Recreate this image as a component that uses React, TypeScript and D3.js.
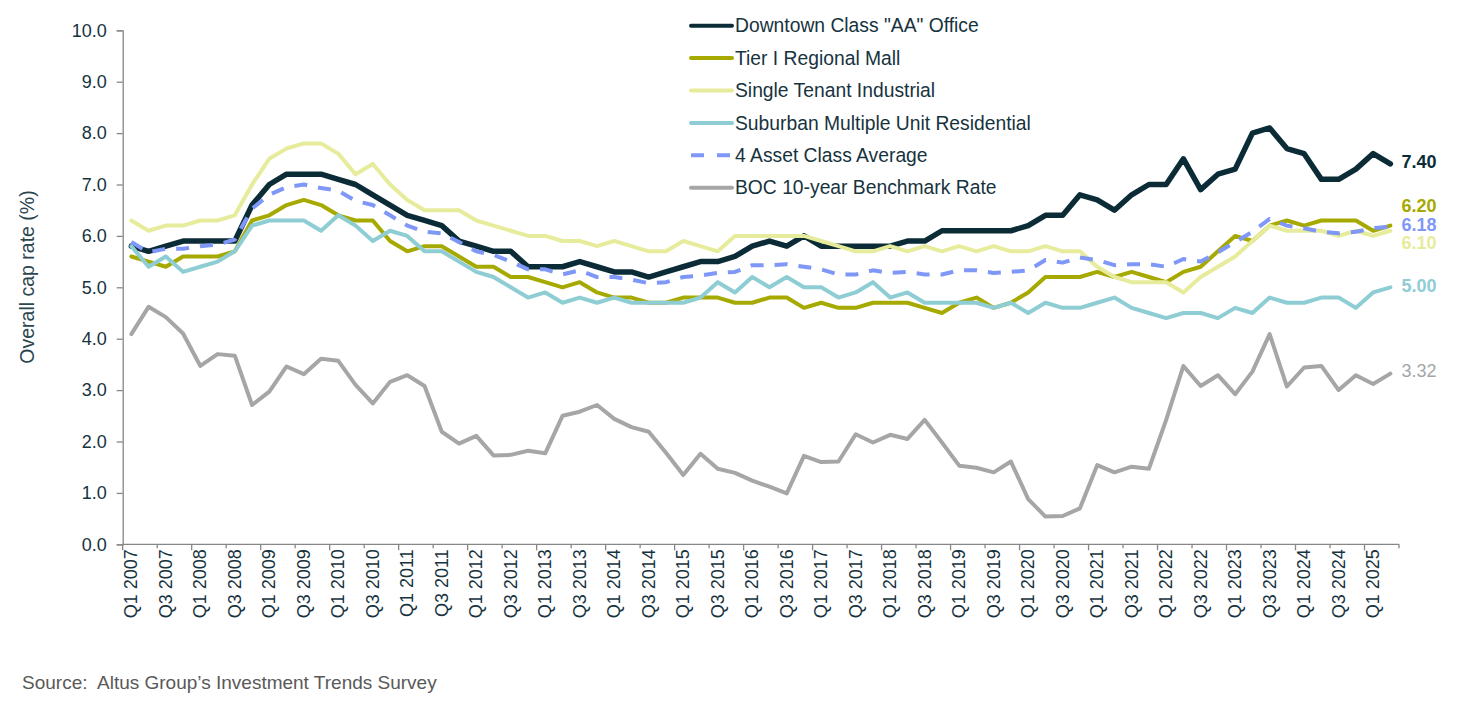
import React, { useEffect, useRef } from 'react';
import * as d3 from 'd3';

// quarter categories, Q1 2007 .. Q2 2025
const quarters = [
  'Q1 2007', 'Q2 2007', 'Q3 2007', 'Q4 2007', 'Q1 2008', 'Q2 2008', 'Q3 2008', 'Q4 2008',
  'Q1 2009', 'Q2 2009', 'Q3 2009', 'Q4 2009', 'Q1 2010', 'Q2 2010', 'Q3 2010', 'Q4 2010',
  'Q1 2011', 'Q2 2011', 'Q3 2011', 'Q4 2011', 'Q1 2012', 'Q2 2012', 'Q3 2012', 'Q4 2012',
  'Q1 2013', 'Q2 2013', 'Q3 2013', 'Q4 2013', 'Q1 2014', 'Q2 2014', 'Q3 2014', 'Q4 2014',
  'Q1 2015', 'Q2 2015', 'Q3 2015', 'Q4 2015', 'Q1 2016', 'Q2 2016', 'Q3 2016', 'Q4 2016',
  'Q1 2017', 'Q2 2017', 'Q3 2017', 'Q4 2017', 'Q1 2018', 'Q2 2018', 'Q3 2018', 'Q4 2018',
  'Q1 2019', 'Q2 2019', 'Q3 2019', 'Q4 2019', 'Q1 2020', 'Q2 2020', 'Q3 2020', 'Q4 2020',
  'Q1 2021', 'Q2 2021', 'Q3 2021', 'Q4 2021', 'Q1 2022', 'Q2 2022', 'Q3 2022', 'Q4 2022',
  'Q1 2023', 'Q2 2023', 'Q3 2023', 'Q4 2023', 'Q1 2024', 'Q2 2024', 'Q3 2024', 'Q4 2024',
  'Q1 2025', 'Q2 2025',
];

const office = [
  5.8, 5.7, 5.8, 5.9, 5.9, 5.9, 5.9, 6.6, 7.0, 7.2, 7.2, 7.2, 7.1, 7.0,
  6.8, 6.6, 6.4, 6.3, 6.2, 5.9, 5.8, 5.7, 5.7, 5.4, 5.4, 5.4, 5.5, 5.4,
  5.3, 5.3, 5.2, 5.3, 5.4, 5.5, 5.5, 5.6, 5.8, 5.9, 5.8, 6.0, 5.8, 5.8,
  5.8, 5.8, 5.8, 5.9, 5.9, 6.1, 6.1, 6.1, 6.1, 6.1, 6.2, 6.4, 6.4, 6.8,
  6.7, 6.5, 6.8, 7.0, 7.0, 7.5, 6.9, 7.2, 7.3, 8.0, 8.1, 7.7, 7.6, 7.1,
  7.1, 7.3, 7.6, 7.4,
];

const mall = [
  5.6, 5.5, 5.4, 5.6, 5.6, 5.6, 5.7, 6.3, 6.4, 6.6, 6.7, 6.6, 6.4, 6.3,
  6.3, 5.9, 5.7, 5.8, 5.8, 5.6, 5.4, 5.4, 5.2, 5.2, 5.1, 5.0, 5.1, 4.9,
  4.8, 4.8, 4.7, 4.7, 4.8, 4.8, 4.8, 4.7, 4.7, 4.8, 4.8, 4.6, 4.7, 4.6,
  4.6, 4.7, 4.7, 4.7, 4.6, 4.5, 4.7, 4.8, 4.6, 4.7, 4.9, 5.2, 5.2, 5.2,
  5.3, 5.2, 5.3, 5.2, 5.1, 5.3, 5.4, 5.7, 6.0, 5.9, 6.2, 6.3, 6.2, 6.3,
  6.3, 6.3, 6.1, 6.2,
];

const industrial = [
  6.3, 6.1, 6.2, 6.2, 6.3, 6.3, 6.4, 7.0, 7.5, 7.7, 7.8, 7.8, 7.6, 7.2,
  7.4, 7.0, 6.7, 6.5, 6.5, 6.5, 6.3, 6.2, 6.1, 6.0, 6.0, 5.9, 5.9, 5.8,
  5.9, 5.8, 5.7, 5.7, 5.9, 5.8, 5.7, 6.0, 6.0, 6.0, 6.0, 6.0, 5.9, 5.8,
  5.7, 5.7, 5.8, 5.7, 5.8, 5.7, 5.8, 5.7, 5.8, 5.7, 5.7, 5.8, 5.7, 5.7,
  5.4, 5.2, 5.1, 5.1, 5.1, 4.9, 5.2, 5.4, 5.6, 5.9, 6.2, 6.1, 6.1, 6.1,
  6.0, 6.1, 6.0, 6.1,
];

const residential = [
  5.8, 5.4, 5.6, 5.3, 5.4, 5.5, 5.7, 6.2, 6.3, 6.3, 6.3, 6.1, 6.4, 6.2,
  5.9, 6.1, 6.0, 5.7, 5.7, 5.5, 5.3, 5.2, 5.0, 4.8, 4.9, 4.7, 4.8, 4.7,
  4.8, 4.7, 4.7, 4.7, 4.7, 4.8, 5.1, 4.9, 5.2, 5.0, 5.2, 5.0, 5.0, 4.8,
  4.9, 5.1, 4.8, 4.9, 4.7, 4.7, 4.7, 4.7, 4.6, 4.7, 4.5, 4.7, 4.6, 4.6,
  4.7, 4.8, 4.6, 4.5, 4.4, 4.5, 4.5, 4.4, 4.6, 4.5, 4.8, 4.7, 4.7, 4.8,
  4.8, 4.6, 4.9, 5.0,
];

const average = [
  5.88, 5.68, 5.75, 5.75, 5.80, 5.83, 5.93, 6.53, 6.80, 6.95, 7.00, 6.93, 6.88, 6.68,
  6.60, 6.40, 6.20, 6.08, 6.05, 5.88, 5.70, 5.63, 5.50, 5.35, 5.35, 5.25, 5.33, 5.20,
  5.20, 5.15, 5.08, 5.10, 5.20, 5.23, 5.28, 5.30, 5.43, 5.43, 5.45, 5.40, 5.35, 5.25,
  5.25, 5.33, 5.28, 5.30, 5.25, 5.25, 5.33, 5.33, 5.28, 5.30, 5.33, 5.53, 5.48, 5.58,
  5.53, 5.43, 5.45, 5.45, 5.40, 5.55, 5.50, 5.68, 5.88, 6.08, 6.33, 6.20, 6.15, 6.08,
  6.05, 6.08, 6.15, 6.18,
];

const boc = [
  4.09, 4.62, 4.42, 4.10, 3.47, 3.70, 3.67, 2.71, 2.97, 3.46, 3.31, 3.61, 3.57, 3.10,
  2.74, 3.16, 3.29, 3.08, 2.19, 1.96, 2.11, 1.73, 1.74, 1.82, 1.77, 2.50, 2.58, 2.71,
  2.44, 2.28, 2.19, 1.78, 1.35, 1.76, 1.47, 1.39, 1.24, 1.12, 0.99, 1.72, 1.60, 1.61,
  2.14, 1.98, 2.13, 2.05, 2.42, 1.98, 1.53, 1.49, 1.40, 1.61, 0.88, 0.54, 0.55, 0.70,
  1.54, 1.40, 1.51, 1.47, 2.42, 3.47, 3.08, 3.29, 2.92, 3.36, 4.09, 3.07, 3.44, 3.47,
  3.00, 3.29, 3.12, 3.32,
];

const seriesNames = [
  'Downtown Class "AA" Office',
  'Tier I Regional Mall',
  'Single Tenant Industrial',
  'Suburban Multiple Unit Residential',
  '4 Asset Class Average',
  'BOC 10-year Benchmark Rate',
];

// end-of-line value labels, same order as seriesNames
const endLabels = ['7.40', '6.20', '6.10', '5.00', '6.18', '3.32'];

const yTicks = [0, 1, 2, 3, 4, 5, 6, 7, 8, 9, 10];

// look of each series (same order as seriesNames)
const styles = [
  { color: '#0b2c36', width: 5.5, dash: null, bold: true, labelDy: -2 },
  { color: '#a6a900', width: 4, dash: null, bold: true, labelDy: -20 },
  { color: '#e7ec9c', width: 4, dash: null, bold: true, labelDy: 12 },
  { color: '#8ecdd3', width: 4, dash: null, bold: true, labelDy: -2 },
  { color: '#7f97f6', width: 4, dash: '13,11', bold: true, labelDy: -1.5 },
  { color: '#a6a6a6', width: 4, dash: null, bold: false, labelDy: -3 },
];

const font = '"Liberation Sans", Arial, sans-serif';
const textColor = '#17333e';

const CapRateChart = () => {
  const ref = useRef<SVGSVGElement>(null);

  useEffect(() => {
    if (!ref.current) return;
    const svg = d3.select(ref.current);
    svg.selectAll('*').remove();

    const left = 122.7, right = 1399, top = 30.3, bottom = 544.3;
    const allSeries = [office, mall, industrial, residential, average, boc];

    const x = d3.scaleBand<number>()
      .domain(quarters.map((_, i) => i))
      .range([left, right]);
    const cx = (i: number) => (x(i) ?? 0) + x.bandwidth() / 2;

    const y = d3.scaleLinear().domain([0, 10]).range([bottom, top]);

    // y axis
    const yAxis = svg.append('g')
      .attr('transform', `translate(${left},0)`)
      .call(d3.axisLeft(y).tickValues(yTicks).tickFormat(d3.format('.1f')).tickSize(6).tickPadding(10));
    yAxis.select('.domain').attr('stroke', '#878787').attr('stroke-width', 1.3);
    yAxis.selectAll('.tick line').attr('stroke', '#878787').attr('stroke-width', 1.3);
    yAxis.selectAll('.tick text')
      .attr('fill', textColor)
      .style('font-family', font)
      .style('font-size', '18px');

    // x axis line + ticks at category boundaries
    const gx = svg.append('g');
    gx.append('line')
      .attr('x1', left).attr('x2', right)
      .attr('y1', bottom).attr('y2', bottom)
      .attr('stroke', '#878787').attr('stroke-width', 1.3);
    const bounds = d3.range(0, quarters.length + 1, 2);
    gx.selectAll('line.tk')
      .data(bounds)
      .join('line')
      .attr('class', 'tk')
      .attr('x1', d => left + d * x.step())
      .attr('x2', d => left + d * x.step())
      .attr('y1', bottom)
      .attr('y2', d => bottom + (d % 4 === 0 ? 6 : 4))
      .attr('stroke', '#878787').attr('stroke-width', 1.3);

    gx.selectAll('text')
      .data(quarters.map((q, i) => ({ q, i })).filter(d => d.i % 2 === 0))
      .join('text')
      .attr('transform', d => `translate(${cx(d.i) + 6},${bottom + 5}) rotate(-90)`)
      .attr('text-anchor', 'end')
      .attr('fill', textColor)
      .style('font-family', font)
      .style('font-size', '18px')
      .text(d => d.q);

    // y title
    svg.append('text')
      .attr('transform', `translate(34,277) rotate(-90)`)
      .attr('text-anchor', 'middle')
      .attr('fill', '#2b4651')
      .style('font-family', font)
      .style('font-size', '19.5px')
      .text('Overall cap rate (%)');

    // lines
    const line = d3.line<number>()
      .x((_, i) => cx(i))
      .y(d => y(d));

    allSeries.forEach((vals, k) => {
      const s = styles[k];
      svg.append('path')
        .datum(vals)
        .attr('d', line)
        .attr('fill', 'none')
        .attr('stroke', s.color)
        .attr('stroke-width', s.width)
        .attr('stroke-linejoin', 'round')
        .attr('stroke-linecap', s.dash ? 'butt' : 'round')
        .attr('stroke-dasharray', s.dash);
    });

    // end labels
    allSeries.forEach((vals, k) => {
      const s = styles[k];
      const last = vals.length - 1;
      svg.append('text')
        .attr('x', cx(last) + 11)
        .attr('y', y(vals[last]) + s.labelDy)
        .attr('dy', '0.35em')
        .attr('fill', s.color)
        .style('font-family', font)
        .style('font-size', '18px')
        .style('font-weight', s.bold ? 'bold' : 'normal')
        .text(endLabels[k]);
    });

    // legend
    const legend = svg.append('g').attr('transform', 'translate(690,25.7)');
    seriesNames.forEach((name, k) => {
      const s = styles[k];
      const row = legend.append('g').attr('transform', `translate(0,${k * 32.4})`);
      row.append('line')
        .attr('x1', 1).attr('x2', 42)
        .attr('stroke', s.color)
        .attr('stroke-width', 4)
        .attr('stroke-linecap', s.dash ? 'butt' : 'round')
        .attr('stroke-dasharray', s.dash ? '13,13' : null);
      row.append('text')
        .attr('x', 45)
        .attr('dy', '0.35em')
        .attr('fill', textColor)
        .style('font-family', font)
        .style('font-size', '19.3px')
        .text(name);
    });

    // source note
    svg.append('text')
      .attr('x', 22)
      .attr('y', 689)
      .attr('fill', '#595959')
      .style('font-family', font)
      .style('font-size', '19px')
      .style('white-space', 'pre')
      .text('Source:  Altus Group\u2019s Investment Trends Survey');
  }, []);

  return (
    <svg
      ref={ref}
      width={1474}
      height={711}
      style={{ position: 'absolute', left: 0, top: 0, background: '#fff' }}
    />
  );
};

export default function App() {
  return <CapRateChart />;
}
